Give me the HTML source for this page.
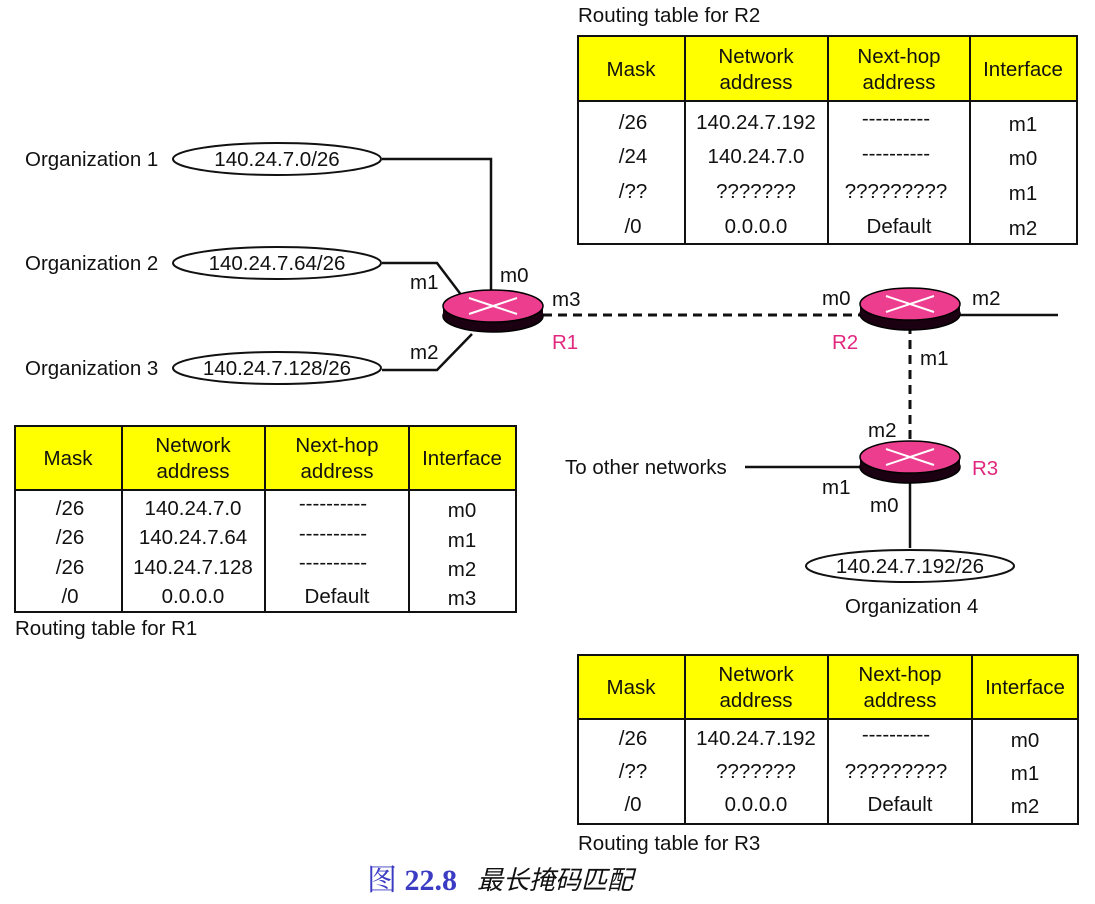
<!DOCTYPE html>
<html><head><meta charset="utf-8"><style>
body{margin:0;background:#fff}
svg text{font-family:"Liberation Sans",sans-serif;font-size:20.5px;fill:#111}
.p{fill:#e0287f}
</style></head><body>
<svg width="1095" height="899" viewBox="0 0 1095 899" xmlns="http://www.w3.org/2000/svg">
<defs>
<g id="rt">
<ellipse cx="0" cy="7" rx="50" ry="16" fill="#1a0010" stroke="#000" stroke-width="1.5"/>
<rect x="-50" y="-3" width="100" height="10" fill="#1a0010"/>
<ellipse cx="0" cy="-3" rx="50" ry="16" fill="#ec3d8f" stroke="#000" stroke-width="1.5"/>
<path d="M-24,-11 L24,5 M-24,5 L24,-11" stroke="#fff" stroke-width="2"/>
</g>
</defs>
<g stroke="#111" stroke-width="2.5" fill="none">
<path d="M382,159 H491 V293"/>
<path d="M382,263 H437 L462,296"/>
<path d="M382,370 H437 L472,334"/>
<path d="M960,315 H1058"/>
<path d="M745,467 H862"/>
<path d="M910,472 V548"/>
</g>
<g stroke="#111" stroke-width="3" stroke-dasharray="9,6" fill="none">
<path d="M543,315 H860"/>
<path d="M910,325 V445"/>
</g>
<use href="#rt" x="493" y="309"/>
<use href="#rt" x="910" y="307"/>
<use href="#rt" x="910" y="460"/>
<g fill="#fff" stroke="#111" stroke-width="2">
<ellipse cx="277" cy="159" rx="104" ry="16"/>
<ellipse cx="277" cy="263" rx="104" ry="16"/>
<ellipse cx="277" cy="368" rx="104" ry="16"/>
<ellipse cx="910" cy="566" rx="104" ry="16"/>
</g>
<g text-anchor="middle">
<text x="277" y="166">140.24.7.0/26</text>
<text x="277" y="270">140.24.7.64/26</text>
<text x="277" y="375">140.24.7.128/26</text>
<text x="910" y="573">140.24.7.192/26</text>
</g>
<text x="25" y="166">Organization 1</text>
<text x="25" y="270">Organization 2</text>
<text x="25" y="375">Organization 3</text>
<text x="845" y="613">Organization 4</text>
<text x="565" y="474">To other networks</text>
<text x="500" y="282">m0</text><text x="410" y="289">m1</text><text x="552" y="306">m3</text>
<text x="410" y="359">m2</text><text class="p" x="552" y="349">R1</text>
<text x="822" y="305">m0</text><text x="972" y="305">m2</text><text class="p" x="832" y="349">R2</text>
<text x="920" y="365">m1</text><text x="868" y="437">m2</text><text class="p" x="972" y="475">R3</text>
<text x="822" y="494">m1</text><text x="870" y="512">m0</text>
<text x="578" y="22">Routing table for R2</text>
<rect x="578" y="36" width="499" height="65" fill="#ffff00"/>
<rect x="578" y="36" width="499" height="208" fill="none" stroke="#111" stroke-width="2"/>
<g stroke="#111" stroke-width="2"><path d="M578,101H1077M685,36V244M828,36V244M970,36V244"/></g>
<g text-anchor="middle">
<text x="631" y="76">Mask</text><text x="756" y="63">Network</text><text x="756" y="89">address</text>
<text x="899" y="63">Next-hop</text><text x="899" y="89">address</text><text x="1023" y="76">Interface</text>
<text x="633" y="129">/26</text><text x="756" y="129">140.24.7.192</text><text x="896" y="125">----------</text><text x="1023" y="131">m1</text>
<text x="633" y="163">/24</text><text x="756" y="163">140.24.7.0</text><text x="896" y="160">----------</text><text x="1023" y="165">m0</text>
<text x="633" y="198">/??</text><text x="756" y="198">???????</text><text x="896" y="198">?????????</text><text x="1023" y="200">m1</text>
<text x="633" y="233">/0</text><text x="756" y="233">0.0.0.0</text><text x="899" y="233">Default</text><text x="1023" y="235">m2</text>
</g>
<rect x="15" y="426" width="501" height="64" fill="#ffff00"/>
<rect x="15" y="426" width="501" height="186" fill="none" stroke="#111" stroke-width="2"/>
<g stroke="#111" stroke-width="2"><path d="M15,490H516M122,426V612M265,426V612M409,426V612"/></g>
<g text-anchor="middle">
<text x="68" y="465">Mask</text><text x="193" y="452">Network</text><text x="193" y="478">address</text>
<text x="337" y="452">Next-hop</text><text x="337" y="478">address</text><text x="462" y="465">Interface</text>
<text x="70" y="515">/26</text><text x="193" y="515">140.24.7.0</text><text x="333" y="510">----------</text><text x="462" y="517">m0</text>
<text x="70" y="544">/26</text><text x="193" y="544">140.24.7.64</text><text x="333" y="540">----------</text><text x="462" y="547">m1</text>
<text x="70" y="574">/26</text><text x="193" y="574">140.24.7.128</text><text x="333" y="569">----------</text><text x="462" y="576">m2</text>
<text x="70" y="603">/0</text><text x="193" y="603">0.0.0.0</text><text x="337" y="603">Default</text><text x="462" y="605">m3</text>
</g>
<text x="15" y="635">Routing table for R1</text>
<rect x="578" y="655" width="500" height="64" fill="#ffff00"/>
<rect x="578" y="655" width="500" height="169" fill="none" stroke="#111" stroke-width="2"/>
<g stroke="#111" stroke-width="2"><path d="M578,719H1078M685,655V824M828,655V824M972,655V824"/></g>
<g text-anchor="middle">
<text x="631" y="694">Mask</text><text x="756" y="681">Network</text><text x="756" y="707">address</text>
<text x="900" y="681">Next-hop</text><text x="900" y="707">address</text><text x="1025" y="694">Interface</text>
<text x="633" y="745">/26</text><text x="756" y="745">140.24.7.192</text><text x="896" y="741">----------</text><text x="1025" y="747">m0</text>
<text x="633" y="778">/??</text><text x="756" y="778">???????</text><text x="896" y="778">?????????</text><text x="1025" y="780">m1</text>
<text x="633" y="811">/0</text><text x="756" y="811">0.0.0.0</text><text x="900" y="811">Default</text><text x="1025" y="813">m2</text>
</g>
<text x="578" y="850">Routing table for R3</text>
<text x="367" y="890" style="font-family:'Liberation Serif','Noto Serif CJK SC',serif;font-size:30px;fill:#3b3bc4">图 <tspan font-weight="bold">22.8</tspan></text>
<text x="477" y="889" style="font-family:'Liberation Serif','Noto Sans CJK SC',sans-serif;font-size:26px;font-style:italic;fill:#111">最长掩码匹配</text>
</svg>
</body></html>
